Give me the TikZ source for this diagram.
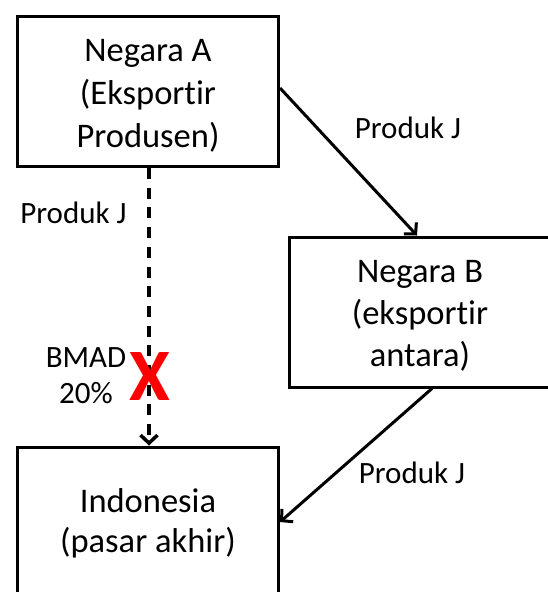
\documentclass[tikz,border=0pt]{standalone}
\usepackage{fontspec}
\setmainfont[Ligatures=NoCommon]{Carlito}
\usetikzlibrary{arrows.meta}
\definecolor{xred}{RGB}{255,0,0}
\tikzset{
  box/.style={draw=black, line width=3pt, rectangle, inner sep=0pt, minimum width=261pt, minimum height=150pt},
  boxtext/.style={align=center, inner sep=0pt},
  lbl/.style={inner sep=0pt, anchor=base, font=\fontsize{31}{36}\selectfont},
  flow/.style={draw=black, line width=3pt, -{Straight Barb[length=8pt,width=17pt]}},
  blocked/.style={draw=black, line width=3.5pt, dash pattern=on 11pt off 8.7pt, -{Straight Barb[length=8pt,width=17pt]}},
}
\newcommand{\topstrut}[1]{\rule{0pt}{#1}}
\newcommand{\botstrut}[1]{\rule[-#1]{0pt}{#1}}
\begin{document}
\begin{tikzpicture}[x=1pt,y=-1pt]
\useasboundingbox (0,0) rectangle (548,592);
% boxes
\node[box] (A) at (148,91.5) {};
\node[box] (B) at (420,312) {};
\node[box] (C) at (148,522) {};
% box texts
\node[boxtext, font=\fontsize{34.5}{43}\selectfont] (At) at (148,96.7)
  {\topstrut{27pt}Negara A\\(Eksportir\\Produsen)\botstrut{11pt}};
\node[boxtext, font=\fontsize{34.5}{42}\selectfont] (Bt) at (420,316.7)
  {\topstrut{27pt}Negara B\\(eksportir\\antara)\botstrut{11pt}};
\node[boxtext, font=\fontsize{34.5}{40}\selectfont] (Ct) at (148,524)
  {\topstrut{27pt}Indonesia\\(pasar akhir)\botstrut{11pt}};
% connectors
\draw[flow] ([yshift=3.5pt]A.east) -- ([xshift=-3pt]B.north);
\draw[flow] ([xshift=12pt]B.south) -- (C.east);
\draw[blocked] ([xshift=1pt]A.south) -- ([xshift=1pt]C.north);
% labels
\node[lbl] (l1) at (408,138) {Produk J};
\node[lbl] (l2) at (73.5,223) {Produk J};
\node[lbl] (l3) at (412,483) {Produk J};
\node[boxtext, font=\fontsize{31}{36}\selectfont] (bmad) at (86,378.2)
  {\topstrut{24pt}BMAD\\20\%\botstrut{10pt}};
\node[inner sep=0pt, anchor=base, text=xred, font=\fontsize{74}{74}\selectfont\bfseries] (x) at (150,400) {X};
\end{tikzpicture}
\end{document}
